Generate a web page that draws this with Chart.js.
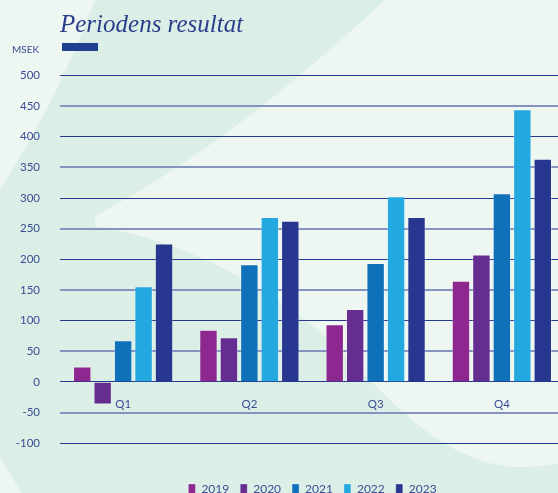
<!DOCTYPE html>
<html>
<head>
<meta charset="utf-8">
<script src="https://cdn.jsdelivr.net/npm/chart.js@4/dist/chart.umd.min.js"></script>
<style>
  html, body { margin: 0; padding: 0; overflow: hidden; background: #dcefe6; }
  #wrap { position: relative; width: 558px; height: 493px; overflow: hidden; }
  #bg { position: absolute; left: 0; top: 0; }
  #bar-mark { position: absolute; left: 62px; top: 43px; width: 36px; height: 8px; background: #1f3f8f; }
  #holder { position: absolute; left: 0; top: 0; width: 570px; height: 505px; }
</style>
</head>
<body>
<div id="wrap">
  <svg id="bg" width="558" height="493">
    <rect width="558" height="493" fill="#dcefe6"/>
    <path d="M0,0 L95,0 Q60,95 0,190 Z" fill="#eef6f2"/>
    <path d="M385,0 L558,0 L558,464 L530,467 C450,470 400,410 330,340 C260,280 180,240 95,226 L95,216 C170,175 250,125 385,0 Z" fill="#eef6f2"/>
    <path d="M0,458 L22,493 L0,493 Z" fill="#eef6f2"/>
  </svg>
  <div id="bar-mark"></div>
  <div id="holder"><canvas id="myChart"></canvas></div>
</div>
<script>
const quarters = ['Q1', 'Q2', 'Q3', 'Q4'];
const years = ['2019', '2020', '2021', '2022', '2023'];
const v2019 = [25, 85, 94, 165];
const v2020 = [-37, 73, 119, 208];
const v2021 = [68, 192, 194, 308];
const v2022 = [156, 269, 303, 445];
const v2023 = [226, 263, 269, 364];
const yTicks = [500, 450, 400, 350, 300, 250, 200, 150, 100, 50, 0, -50, -100];

const colors = ['#8e278f', '#652d90', '#0f71b9', '#23a8e0', '#27378f'];
const series = [v2019, v2020, v2021, v2022, v2023];
const txt = '#3b4c95';
const fam = 'Lato, "Open Sans", sans-serif';

const ctx = document.getElementById('myChart').getContext('2d');
new Chart(ctx, {
  type: 'bar',
  data: {
    labels: quarters,
    datasets: years.map((y, i) => ({
      label: y,
      data: series[i],
      backgroundColor: colors[i],
      borderColor: 'rgba(255,255,255,0.3)',
      borderWidth: 1,
      categoryPercentage: 0.81,
      barPercentage: 0.9
    }))
  },
  options: {
    responsive: true,
    maintainAspectRatio: false,
    animation: false,
    layout: { padding: { left: 12, right: 5, top: 0, bottom: 0 } },
    plugins: {
      title: {
        display: true,
        text: 'Periodens resultat',
        align: 'start',
        fullSize: false,
        color: '#2b3e8c',
        font: { family: '"Liberation Serif", serif', size: 25, style: 'italic', weight: 'normal' },
        padding: { top: 10, bottom: 4 }
      },
      subtitle: {
        display: true,
        text: 'MSEK',
        align: 'start',
        fullSize: true,
        color: txt,
        font: { family: fam, size: 10 },
        padding: { top: 0, bottom: 19.5 }
      },
      legend: {
        position: 'bottom',
        fullSize: false,
        labels: {
          boxWidth: 7,
          boxHeight: 10,
          padding: 11,
          color: txt,
          font: { family: fam, size: 12 }
        }
      },
      tooltip: { enabled: false }
    },
    scales: {
      x: {
        position: { y: 0 },
        grid: { display: false, drawTicks: false },
        border: { display: false },
        ticks: { color: txt, font: { family: fam, size: 11.5 }, padding: 15 }
      },
      y: {
        min: -147,
        max: 500,
        afterBuildTicks: s => { s.ticks = yTicks.map(v => ({ value: v })); },
        afterFit: s => { s.width = 48; },
        grid: {
          drawTicks: false,
          color: c => (c.tick && c.tick.value % 100 === 0) ? '#24398f' : '#8593c2',
          lineWidth: c => (c.tick && c.tick.value % 100 === 0) ? 1 : 2
        },
        border: { display: false },
        ticks: { color: txt, font: { family: fam, size: 11.5 }, padding: 20 }
      }
    }
  }
});
</script>
</body>
</html>
